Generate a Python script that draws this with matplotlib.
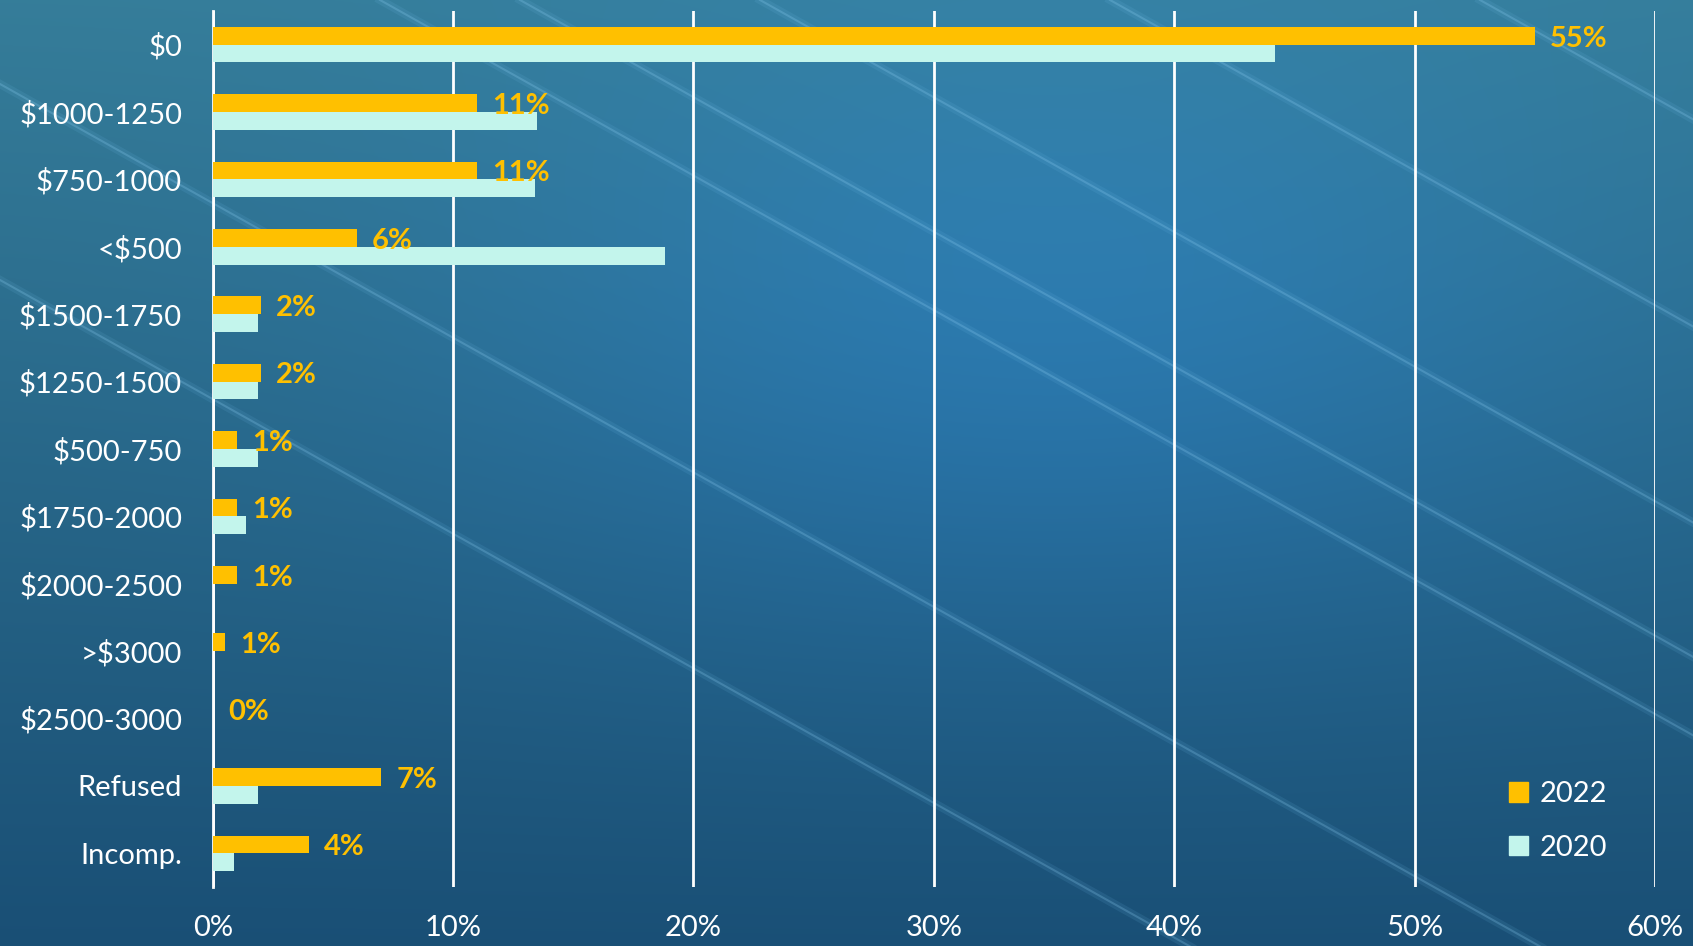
import numpy as np
import matplotlib
matplotlib.use("Agg")
import matplotlib.pyplot as plt
from matplotlib.patches import Patch

plt.rcParams['font.family'] = ['Lato', 'DejaVu Sans']

# data (share of respondents)
categories = ['$0', '$1000-1250', '$750-1000', '<$500', '$1500-1750', '$1250-1500',
              '$500-750', '$1750-2000', '$2000-2500', '>$3000', '$2500-3000',
              'Refused', 'Incomp.']
v2022 = [0.55, 0.11, 0.11, 0.06, 0.02, 0.02, 0.01, 0.01, 0.01, 0.005, 0.0, 0.07, 0.04]
v2020 = [0.442, 0.135, 0.134, 0.188, 0.019, 0.019, 0.019, 0.014, 0.0, 0.0, 0.0, 0.019, 0.009]
xticks = [0, 0.1, 0.2, 0.3, 0.4, 0.5, 0.6]

gold = '#FFC000'
mint = '#C3F5EC'

W, H = 1693, 946
fig = plt.figure(figsize=(W / 100, H / 100), dpi=100)

# background: blue gradient with a brighter centre and faint diagonal streaks
bg = fig.add_axes([0, 0, 1, 1])
yy, xx = np.mgrid[0:1:H * 1j, 0:1:W * 1j]
top = np.array([0.21, 0.49, 0.60])
bot = np.array([0.10, 0.31, 0.46])
img = top[None, None, :] * (1 - yy[..., None]) + bot[None, None, :] * yy[..., None]
glow = np.exp(-(((xx - 0.62) / 0.35) ** 2 + ((yy - 0.35) / 0.35) ** 2))
img = img + glow[..., None] * np.array([0.0, 0.05, 0.13])[None, None, :]
bg.imshow(np.clip(img, 0, 1), extent=[0, W, H, 0], aspect='auto')
for x0 in [-500, -150, 380, 520, 760, 1110, 1480]:
    xs = np.array([x0, x0 + 2400])
    bg.plot(xs, (xs - x0) * 0.56, color='#6fbbe8', lw=6, alpha=0.12)
    bg.plot(xs, (xs - x0) * 0.56, color='#8fd0f4', lw=1.5, alpha=0.25)
bg.set_xlim(0, W)
bg.set_ylim(H, 0)
bg.axis('off')

ax = fig.add_axes([212.7 / W, 1 - 887 / H, (1655 - 212.7) / W, 876 / H])
ax.patch.set_alpha(0)

y = np.arange(len(categories))
h = 0.264
ax.barh(y - h / 2, v2022, height=h, color=gold, label='2022', zorder=3)
ax.barh(y + h / 2, v2020, height=h, color=mint, label='2020', zorder=3)

for yi, v in zip(y, v2022):
    ax.annotate('%d%%' % round(v * 100 + 0.001), (v, yi - h / 2), xytext=(11, -2),
                textcoords='offset points', ha='left', va='center',
                color=gold, fontsize=21, fontweight='bold', zorder=4)

ax.set_xlim(0, 0.6)
ax.set_ylim(len(categories) - 0.5, -0.5)
ax.set_xticks(xticks)
ax.set_xticklabels(['%d%%' % round(t * 100) for t in xticks])
ax.set_yticks(y)
ax.set_yticklabels(categories)
ax.tick_params(axis='both', length=0, colors='white', labelsize=21)
ax.tick_params(axis='x', pad=20)
ax.tick_params(axis='y', pad=22)
ax.grid(axis='x', color='white', lw=2, zorder=1)
for s in ['top', 'right', 'bottom']:
    ax.spines[s].set_visible(False)
ax.spines['left'].set_color('white')
ax.spines['left'].set_linewidth(2)

handles = [Patch(color=gold, label='2022'), Patch(color=mint, label='2020')]
leg = ax.legend(handles=handles, loc='lower right', bbox_to_anchor=(0.985, 0.0),
                frameon=False, fontsize=21, handlelength=0.65, handleheight=0.65,
                handletextpad=0.4, labelspacing=0.95)
for t in leg.get_texts():
    t.set_color('white')

fig.savefig('out.png', dpi=100)
